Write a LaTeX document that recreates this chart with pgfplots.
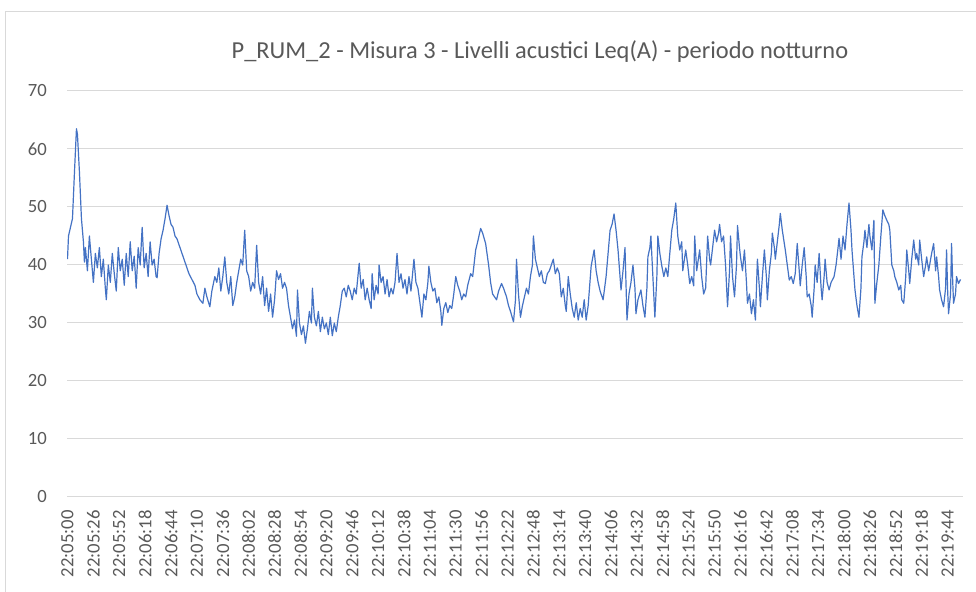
\documentclass[border=0pt]{standalone}
\usepackage{fontspec}
\setmainfont{Carlito}
\usepackage{pgfplots}
\pgfplotsset{compat=1.18}
\definecolor{xlblue}{HTML}{4472C4}
\definecolor{gridgray}{HTML}{D9D9D9}
\definecolor{txtgray}{HTML}{595959}

\begin{document}
\begin{tikzpicture}
\useasboundingbox (0,0) rectangle (732pt,444pt);
\fill[white] (0,0) rectangle (732pt,444pt);
\draw[gridgray, line width=0.75pt] (3.75pt,0) -- (3.75pt,435pt) -- (732pt,435pt);
\node[txtgray, font=\fontsize{18.3}{22}\selectfont] at (405pt,405pt)
  {P\_RUM\_2 - Misura 3 - Livelli acustici Leq(A) - periodo notturno};
\begin{axis}[
    at={(50.25pt,71.25pt)}, anchor=south west,
    width=672pt, height=304.5pt, scale only axis,
    xmin=-0.5, xmax=899.5,
    ymin=0, ymax=70,
    ytick={0,10,...,70},
    xtick={0,26,...,884},
    xticklabels={22:05:00,22:05:26,22:05:52,22:06:18,22:06:44,22:07:10,22:07:36,
      22:08:02,22:08:28,22:08:54,22:09:20,22:09:46,22:10:12,22:10:38,22:11:04,
      22:11:30,22:11:56,22:12:22,22:12:48,22:13:14,22:13:40,22:14:06,22:14:32,
      22:14:58,22:15:24,22:15:50,22:16:16,22:16:42,22:17:08,22:17:34,22:18:00,
      22:18:26,22:18:52,22:19:18,22:19:44},
    ymajorgrids,
    grid style={gridgray, line width=0.75pt},
    axis line style={draw=none},
    major tick length=0pt,
    tick label style={txtgray, font=\fontsize{14}{16}\selectfont},
    xticklabel style={rotate=90, anchor=east, inner sep=0pt},
    yticklabel style={anchor=east, inner sep=0pt},
    xticklabel shift=9.75pt,
    yticklabel shift=15pt,
    /pgf/number format/assume math mode=true,
]
% Leq(A), one reading every second from 22:05:00 (x = seconds)
\addplot[xlblue, line width=0.9pt, line join=round] coordinates {
(0,41)(1,45)(3,46.5)(5,48)(7,56)(9,63.5)(10,62.5)(12,56)(14,48)(16,44)(17,40.5)
(18,43)(20,39)(22,45)(24,41)(26,37)(28,42)(30,39.5)(32,43)(34,38)(36,41)(38,36)(39,34)
(41,40)(43,37)(45,42)(47,38.5)(49,35.5)(51,43)(53,39)(55,41)(57,36.5)(59,42)(61,38)
(63,44)(65,39)(67,41.5)(69,36)(71,43)(73,40)(75,46.5)(77,39.5)(79,42)(81,38)(83,44)
(85,40)(87,41)(89,38)(90,37.8)(92,42)(94,44.5)(96,46)(98,48)(100,50.3)(102,48.5)
(104,47)(106,46.5)(108,45)(110,44.5)(113,43)(116,41.5)(119,40)(122,38.5)(125,37.5)
(128,36.5)(130,35)(133,34)(136,33.4)(138,36)(140,34.5)(143,32.8)(145,35.5)(148,38)
(150,37)(152,39.5)(154,35.5)(156,38)(158,41.4)(160,37)(162,35)(164,38)(166,33)(168,34.5)
(170,37)(172,39)(174,41)(176,40)(178,46)(180,39)(182,38)(184,35.5)(186,37)(188,36)
(190,43.4)(192,37)(194,35)(196,38)(198,33)(200,36)(202,32)(204,35)(206,31)(208,34)
(210,39)(212,37.5)(214,38.5)(216,36)(218,37)(220,36)(222,33)(224,31)(226,29)(228,30.5)
(230,27.7)(231,35.7)(233,30)(235,28)(237,29.5)(239,26.5)(241,29)(243,32)(245,30)(246,36)
(248,31)(250,29.5)(252,32)(254,28.5)(256,31)(258,29)(260,30)(262,28)(264,31)(266,27.8)
(268,30)(270,28.5)(272,31)(274,33)(276,35.5)(278,36)(280,34.5)(282,36.5)(284,35.5)
(286,34)(288,36)(290,35)(293,40.3)(295,36)(297,37.5)(299,34)(301,36)(303,34)
(305,32.5)(306,38.5)(308,34)(310,36.5)(312,35)(313,40)(315,37)(317,38)(319,35)(321,37.5)
(323,34.5)(325,36)(327,35)(329,37)(331,42)(333,37)(335,38.5)(337,36)(339,37.5)(341,35)
(343,38)(345,35.5)(348,41)(350,37)(352,36)(354,33.5)(356,31)(358,35)(360,34)(362,37)
(363,39.8)(365,37)(367,35.5)(369,36)(371,33.5)(373,34.5)(375,32)(376,29.6)(378,32.5)
(380,33.5)(382,31.8)(384,33)(386,32.5)(388,35)(390,38)(392,36.5)(394,35.5)(396,34)
(398,35)(400,34.5)(402,36.5)(405,38.5)(407,38)(410,42.6)(412,44)(415,46.3)(417,45.5)
(420,43.7)(423,40)(425,37)(427,35)(429,34.5)(431,34)(433,35.5)(436,36.8)(438,36)
(441,34.5)(443,33)(445,32)(448,30.2)
(450,34)(451,41)(453,35)(455,31)(457,33)(459,34.5)(461,36)(463,35)(465,38)(467,40)
(468,45)(470,41)(472,39.5)(474,38)(476,39)(478,37)(480,36.8)(482,38.5)(484,39)(486,40)
(488,41)(490,38.5)(492,39.5)(494,38.5)(496,34.5)(498,36)(500,33)(501,32)(503,38)(505,35)
(507,32.5)(509,31)(511,33.5)(513,30.5)(515,32.5)(517,31)(519,34)(521,30.5)(523,33)
(526,39.8)(529,42.6)(531,39)(533,37)(535,35.5)(538,34)(541,38)(543,42)(545,46)(547,47)
(549,48.8)(551,46)(553,42.6)(556,35.7)(558,39)(560,43)(562,30.5)(564,35)(566,37)(568,40)
(570,36)(571,31.6)(573,34)(576,35.7)(578,33)(580,31)(582,36)(583,41.4)(585,43)(586,45)
(588,38)(590,31)(592,38)(593,45)(595,42)(597,39.8)(599,38)(601,39.5)(603,38)
(605,42)(607,46)(609,48)(611,50.7)(613,45)(615,42.6)(617,44)(618,39)(621,42.6)(623,40)
(625,36.8)(627,38)(629,36.4)(630,45)(632,39)(635,42.6)(637,38)(639,35)(641,36)(643,45)
(645,41)(646,40)(648,43)(650,46)(652,44)(654,45.5)(655,47)(657,44)(659,45)(661,40)
(663,32.8)(665,39)(666,45)(668,38)(670,34.5)(672,40)(673,46.8)(675,43)(676,41.4)(678,39)
(680,42.6)(682,37)(683,33.4)(685,35)(687,31.6)(689,34)(691,30.5)(693,41)(695,36)
(696,32.8)(698,38)(700,42.6)(702,38)(703,34)(705,39)(707,42)(708,45.5)(710,43)(711,41)
(713,44)(715,47)(716,48.9)(718,46)(721,42.6)(723,40)(725,37.4)(727,38)(729,36.8)
(731,38.5)(733,43.7)(735,39)(736,36.4)(738,40)(740,43)(742,38)(743,34.5)(745,35)(747,33)
(748,31)(750,36)(751,40)
(753,37)(755,42)(757,36)(758,34)(760,38)(761,41)(763,37)(765,35.7)(767,37)(770,38)
(772,40)(774,43)(775,44.6)(777,41)(779,45)(781,42.6)(783,47)(785,50.7)(787,46)(788,42.6)
(790,38)(791,35.7)(793,33)(795,31)(797,36)(798,41.4)(800,44)(801,46)(803,43)(805,47)
(806,45)(808,42.6)(810,47.7)(811,33.4)(813,37)(815,40)(817,45)(819,49.5)(821,48.5)
(823,47.7)(825,47)(826,46)(828,40)(830,39)(831,38)(833,37)(835,35.7)(837,36.5)(838,34)
(840,33.4)(842,38)(843,42.6)(845,39)(846,36.8)(848,41)(850,44.3)(852,41)(853,42)(855,40)
(856,44.3)(858,41)(860,38)(862,40)(863,41.4)(865,39)(866,40)(868,42)(870,43.7)(872,39)
(873,41.4)(875,38)(876,35.7)(878,34)(880,32.8)(882,36)(883,42.6)(884,36)(885,31.6)
(887,35)(888,43.7)(889,38)(890,33.4)(892,35)(893,38)(895,36.8)(897,37.5)
};
\end{axis}
\end{tikzpicture}
\end{document}
